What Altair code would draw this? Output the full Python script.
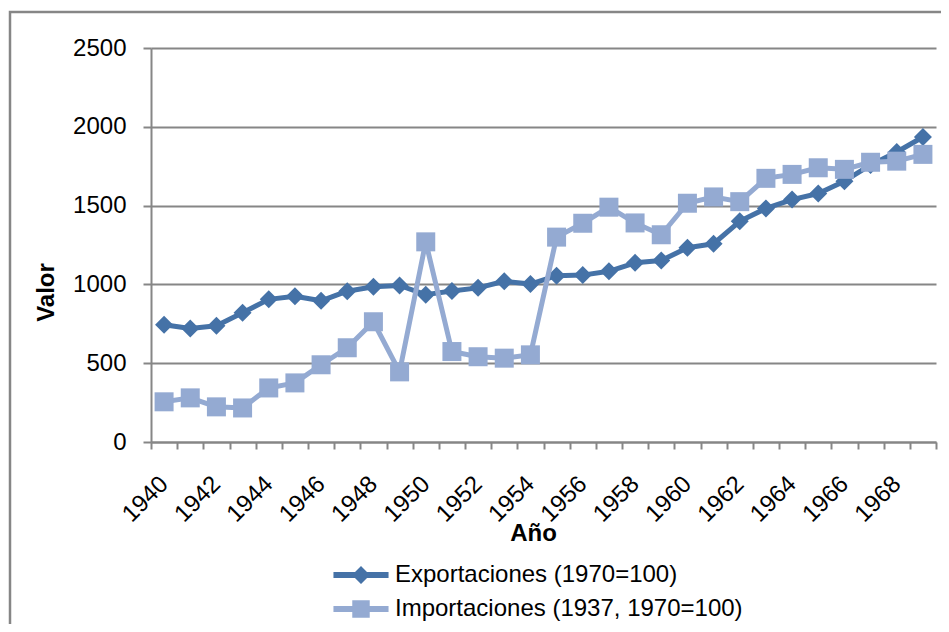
import altair as alt
import pandas as pd

years = list(range(1940, 1970))
exportaciones = [744, 720, 738, 820, 905, 925, 896, 957, 985, 993,
                 935, 958, 978, 1020, 1002, 1055, 1059, 1083, 1137, 1152,
                 1232, 1258, 1400, 1482, 1538, 1577, 1655, 1758, 1840, 1935]
importaciones = [255, 280, 223, 216, 343, 375, 490, 598, 763, 445,
                 1270, 574, 541, 532, 553, 1300, 1388, 1490, 1390, 1315,
                 1515, 1555, 1525, 1673, 1698, 1740, 1730, 1775, 1782, 1825]
series_names = ["Exportaciones (1970=100)", "Importaciones (1937, 1970=100)"]
series_colors = ["#4572A7", "#94AAD2"]
y_ticks = [0, 500, 1000, 1500, 2000, 2500]
x_boundaries = [1939.5 + i for i in range(31)]

df = pd.DataFrame({
    "Año": years * 2,
    "Valor": exportaciones + importaciones,
    "Serie": [series_names[0]] * len(years) + [series_names[1]] * len(years),
})

FONT = "Liberation Sans"
GRAY = "#868686"

x_enc = alt.X(
    "Año:Q",
    scale=alt.Scale(domain=[1939.5, 1969.5], nice=False, zero=False),
    axis=alt.Axis(
        values=x_boundaries,
        labelExpr="datum.value < 1969 && (datum.value - 1939.5) % 2 == 0 ? format(datum.value + 0.5, 'd') : ''",
        labelOffset=13,
        labelAngle=-45,
        labelAlign="right",
        labelBaseline="middle",
        labelPadding=31,
        labelOverlap=False,
        labelFlush=False,
        labelBound=False,
        labelFont=FONT,
        labelFontSize=24,
        labelColor="black",
        tickSize=7,
        tickColor=GRAY,
        tickWidth=2,
        domainColor=GRAY,
        domainWidth=2,
        grid=False,
        title="Año",
        titleFont=FONT,
        titleFontSize=24,
        titleFontWeight="bold",
        titleColor="black",
        titleX=382,
        titleY=91,
        titleAlign="center",
        titleBaseline="middle",
    ),
)

y_enc = alt.Y(
    "Valor:Q",
    scale=alt.Scale(domain=[0, 2500], nice=False),
    axis=alt.Axis(
        values=y_ticks,
        format="d",
        labelFont=FONT,
        labelFontSize=24,
        labelColor="black",
        labelPadding=17,
        tickSize=8,
        tickColor=GRAY,
        tickWidth=2,
        domainColor=GRAY,
        domainWidth=2,
        grid=True,
        gridColor=GRAY,
        gridWidth=1.8,
        title="Valor",
        titleFont=FONT,
        titleFontSize=24,
        titleFontWeight="bold",
        titleColor="black",
        titleX=-105,
        titleY=244,
        titleAngle=-90,
        titleAlign="center",
        titleBaseline="middle",
    ),
)

exp_path = "M-3.06,-0.33H3.06V0.33H-3.06Z M-1,0L0,-1L1,0L0,1Z"
imp_path = "M-3.06,-0.33H3.06V0.33H-3.06Z M-0.97,-0.97H0.97V0.97H-0.97Z"

legend = alt.Legend(
    title=None,
    orient="none",
    legendX=198,
    legendY=515,
    direction="vertical",
    padding=0,
    symbolSize=324,
    symbolType={"expr": f"datum.value == '{series_names[0]}' ? '{exp_path}' : '{imp_path}'"},
    symbolStrokeWidth=0,
    symbolOpacity=1,
    labelOffset=22,
    labelLimit=0,
    labelFont=FONT,
    labelFontSize=24,
    labelColor="black",
    rowPadding=10,
)

color_enc = alt.Color(
    "Serie:N",
    scale=alt.Scale(domain=series_names, range=series_colors),
    legend=legend,
)

base = alt.Chart(df)

layers = []
for i, (name, shape, size) in enumerate(zip(series_names, ["diamond", "square"], [324, 361])):
    sub = base.transform_filter(alt.datum.Serie == name)
    line = sub.mark_line(strokeWidth=5, strokeJoin="round", strokeCap="round",
                         color=series_colors[i]).encode(x=x_enc, y=y_enc)
    pts = sub.mark_point(filled=True, opacity=1, size=size, shape=shape).encode(
        x=x_enc, y=y_enc, color=color_enc)
    layers += [line, pts]

border = alt.Chart(alt.Data(values=[{"a": 1}])).mark_rect(
    fillOpacity=0, stroke=GRAY, strokeWidth=2.5
).encode(
    x=alt.value(-141), x2=alt.value(1200), y=alt.value(-36), y2=alt.value(1200)
)

chart = alt.layer(border, *layers).properties(
    width=785,
    height=394,
    autosize=alt.AutoSizeParams(type="none"),
    padding={"left": 143, "top": 40, "right": 5, "bottom": 182},
    background="white",
).configure_view(stroke=None)

chart.save("out.html", embed_options={"renderer": "svg", "actions": False})
